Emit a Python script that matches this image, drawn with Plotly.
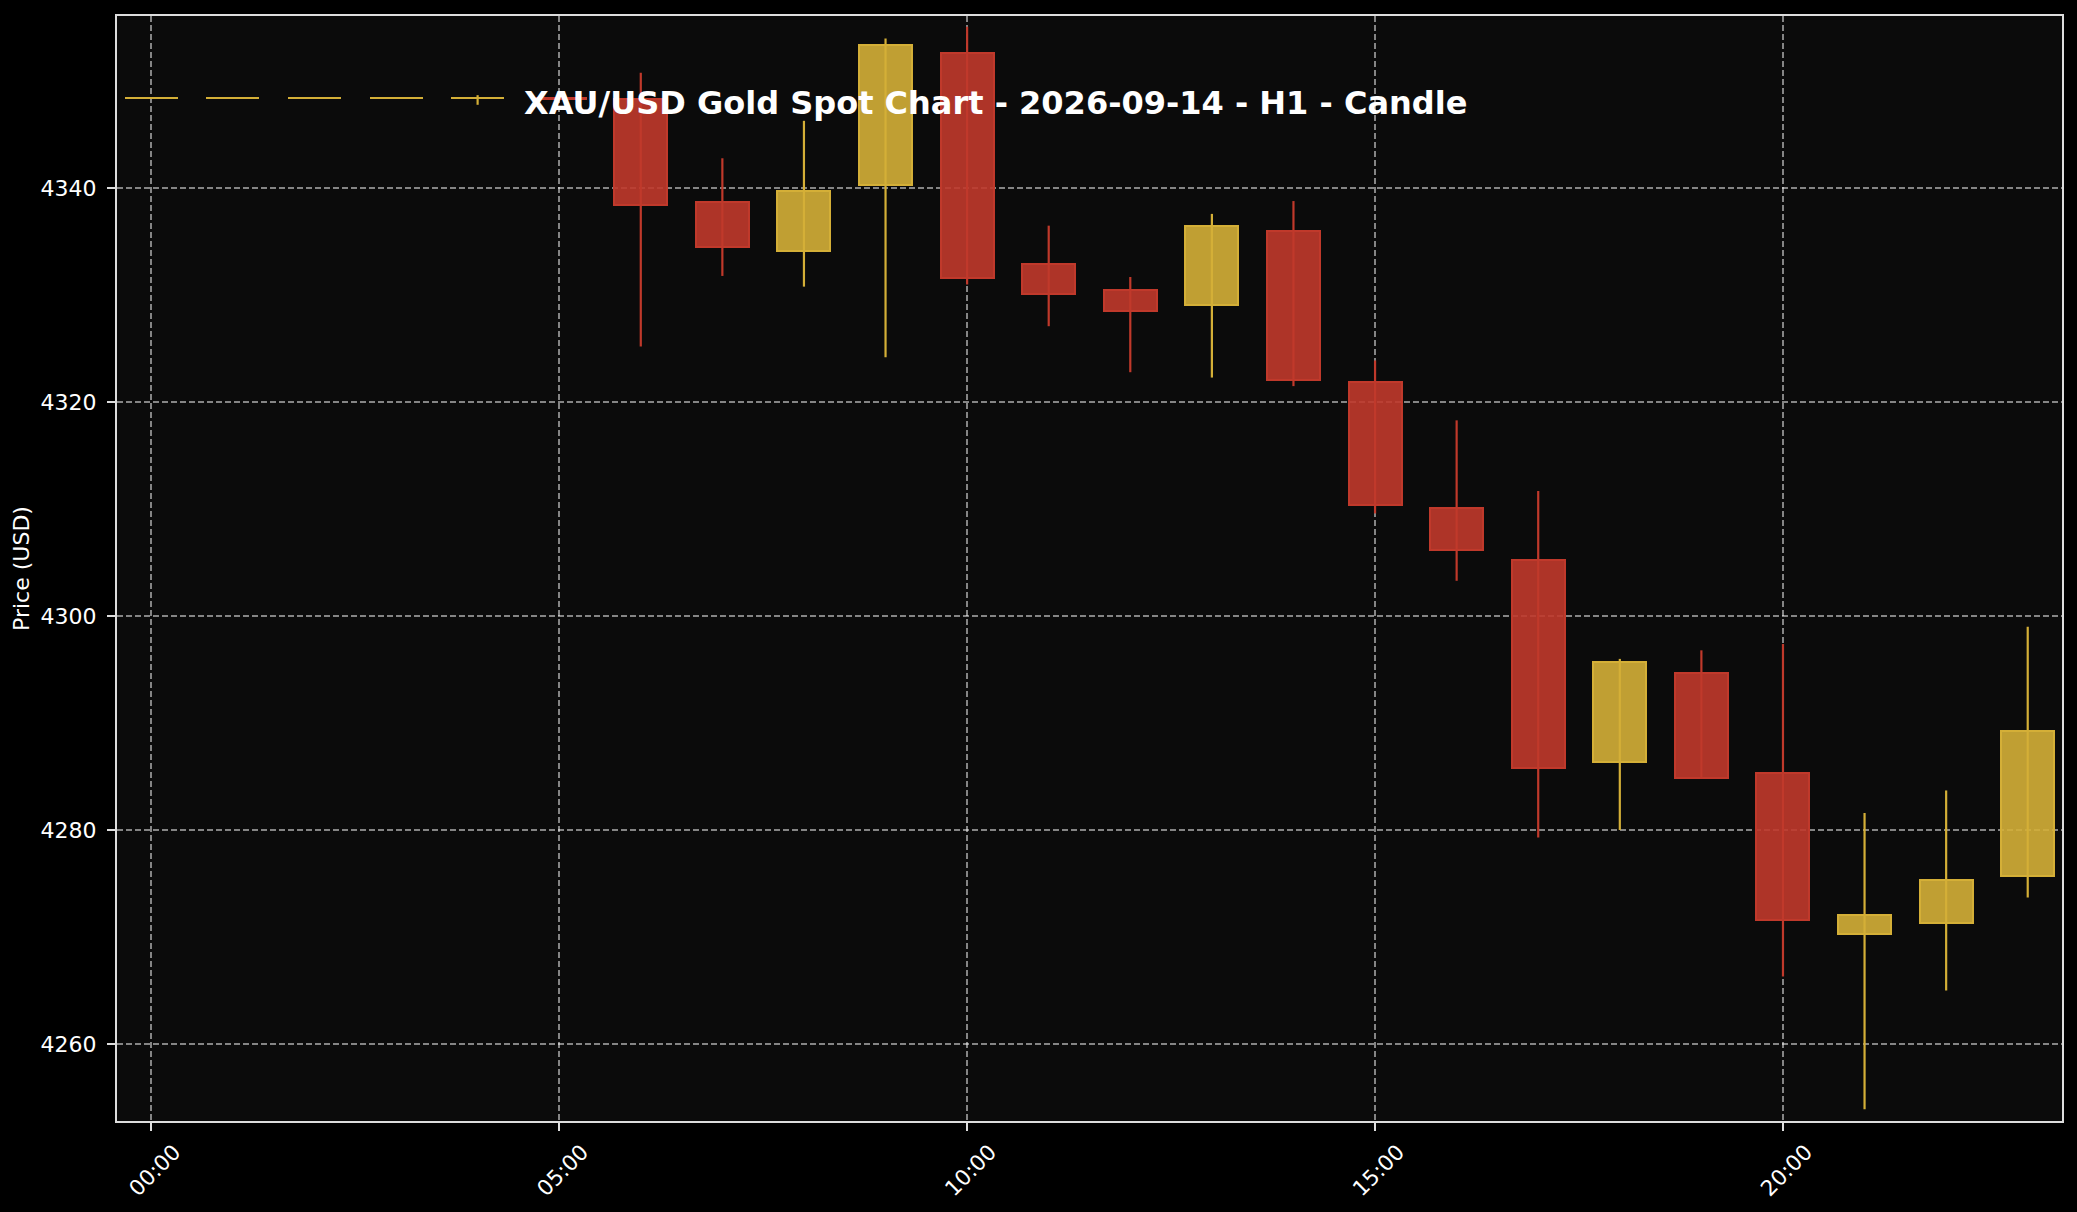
import pandas as pd
import plotly.graph_objects as go

day = "2026-09-14"
hours = ["00:00", "01:00", "02:00", "03:00", "04:00", "05:00", "06:00", "07:00",
         "08:00", "09:00", "10:00", "11:00", "12:00", "13:00", "14:00", "15:00",
         "16:00", "17:00", "18:00", "19:00", "20:00", "21:00", "22:00", "23:00"]

opens = [4348.4, 4348.4, 4348.4, 4348.4, 4348.4, 4348.4, 4348.3, 4338.7,
         4334.1, 4340.3, 4352.6, 4332.9, 4330.5, 4329.1, 4336.0, 4321.9,
         4310.1, 4305.2, 4286.4, 4294.7, 4285.3, 4270.3, 4271.3, 4275.7]
highs = [4348.4, 4348.4, 4348.4, 4348.4, 4348.7, 4348.5, 4350.8, 4342.8,
         4346.3, 4354.0, 4355.1, 4336.5, 4331.7, 4337.6, 4338.8, 4323.9,
         4318.3, 4311.7, 4296.0, 4296.8, 4297.4, 4281.6, 4283.7, 4299.0]
lows = [4348.4, 4348.4, 4348.4, 4348.4, 4347.8, 4348.3, 4325.2, 4331.8,
        4330.8, 4324.2, 4331.0, 4327.1, 4322.8, 4322.3, 4321.5, 4309.6,
        4303.3, 4279.3, 4280.0, 4284.8, 4266.3, 4253.9, 4265.0, 4273.7]
closes = [4348.4, 4348.4, 4348.4, 4348.4, 4348.4, 4348.3, 4338.4, 4334.5,
          4339.7, 4353.4, 4331.6, 4330.1, 4328.5, 4336.5, 4322.1, 4310.4,
          4306.2, 4285.8, 4295.7, 4284.9, 4271.6, 4272.1, 4275.3, 4289.3]

y_ticks = [4260, 4280, 4300, 4320, 4340]

gold = "#D4AF37"
red = "#C0392B"

df = pd.DataFrame({"time": pd.to_datetime([day + " " + h for h in hours]),
                   "open": opens, "high": highs, "low": lows, "close": closes})
df["up"] = df["close"] >= df["open"]
df["bottom"] = df[["open", "close"]].min(axis=1)
df["size"] = (df["close"] - df["open"]).abs()

body_ms = 0.65 * 3600 * 1000

fig = go.Figure()

for is_up, color, fill in [(True, gold, "rgba(212,175,55,0.9)"), (False, red, "rgba(192,57,43,0.9)")]:
    part = df[df["up"] == is_up]
    wx, wy = [], []
    for t, lo, hi in zip(part["time"], part["low"], part["high"]):
        wx += [t, t, None]
        wy += [lo, hi, None]
    # wick first so the body sits on top of it
    fig.add_trace(go.Scatter(x=wx, y=wy, mode="lines", line=dict(color=color, width=2.2),
                             hoverinfo="skip", showlegend=False))
    fig.add_trace(go.Bar(x=part["time"], y=part["size"], base=part["bottom"], width=body_ms,
                         marker=dict(color=fill, line=dict(color=color, width=2)),
                         showlegend=False))

start = pd.Timestamp(day)
x_range = [start + pd.Timedelta(hours=-0.42), start + pd.Timedelta(hours=23.42)]

fig.update_layout(
    width=2077, height=1212,
    margin=dict(l=117, r=15, t=16, b=91),
    paper_bgcolor="#000000",
    plot_bgcolor="#0b0b0b",
    font=dict(family="DejaVu Sans", size=22, color="white"),
    showlegend=False,
    bargap=0,
    title=dict(text="XAU/USD Gold Spot Chart - 2026-09-14 - H1 - Candle",
               x=0.2093, xref="paper", xanchor="left",
               y=0.921, yref="paper", yanchor="middle",
               font=dict(family="DejaVu Sans", size=32, color="white", weight="bold")),
)

fig.update_xaxes(
    type="date", range=x_range,
    tick0=start, dtick=5 * 3600 * 1000, tickformat="%H:%M",
    tickangle=-45, ticklabelshift=23, ticklabelstandoff=0,
    tickfont=dict(size=21.5),
    ticks="outside", ticklen=8, tickwidth=2, tickcolor="#dddddd",
    showline=True, linecolor="#dddddd", linewidth=2, mirror=True,
    showgrid=True, gridcolor="rgba(255,255,255,0.5)", gridwidth=1.6, griddash="6px,3px",
    zeroline=False,
)
fig.update_yaxes(
    range=[4252.8, 4356.1], tickvals=y_ticks,
    tickfont=dict(size=22),
    ticks="outside", ticklen=8, tickwidth=2, tickcolor="#dddddd", ticklabelstandoff=6,
    showline=True, linecolor="#dddddd", linewidth=2, mirror=True,
    showgrid=True, gridcolor="rgba(255,255,255,0.5)", gridwidth=1.6, griddash="6px,3px",
    zeroline=False,
    title=dict(text="Price (USD)", standoff=5, font=dict(size=22)),
)

fig.write_html("out.html", config={"displayModeBar": False},
               post_script="document.body.style.margin='0';document.body.style.background='#000';")
